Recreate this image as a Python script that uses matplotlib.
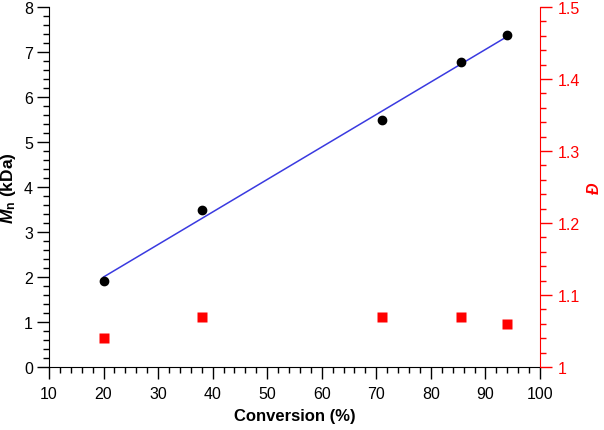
import numpy as np
import matplotlib
matplotlib.use("Agg")
import matplotlib.pyplot as plt
from matplotlib.ticker import MultipleLocator

plt.rcParams['font.family'] = ['Liberation Sans', 'DejaVu Sans']
plt.rcParams['mathtext.fontset'] = 'custom'
plt.rcParams['mathtext.rm'] = 'Liberation Sans:bold'
plt.rcParams['mathtext.it'] = 'Liberation Sans:italic:bold'

conversion = [20, 38, 71, 85.5, 94]
mn_kda = [1.9, 3.5, 5.5, 6.78, 7.38]
dispersity = [1.04, 1.07, 1.07, 1.07, 1.06]

slope, intercept = np.polyfit(conversion, mn_kda, 1)
fit_x = np.array([min(conversion), max(conversion)])
fit_y = slope * fit_x + intercept

fig = plt.figure(figsize=(6.04, 4.31), dpi=100)
ax = fig.add_axes([0.0811, 0.1462, 0.8129, 0.8352])
ax2 = ax.twinx()

ax.plot(fit_x, fit_y, color='#3a3ae0', lw=1.1, zorder=2)
ax.plot(conversion, mn_kda, 'o', color='black', ms=6, zorder=3)
ax2.plot(conversion, dispersity, 's', color='#ff0000', ms=6.5, mec='none', zorder=3)

ax.set_xlim(10, 100)
ax.set_ylim(0, 8)
ax2.set_ylim(1, 1.5)

ax.xaxis.set_major_locator(MultipleLocator(10))
ax.xaxis.set_minor_locator(MultipleLocator(2))
ax.yaxis.set_major_locator(MultipleLocator(1))
ax.yaxis.set_minor_locator(MultipleLocator(0.2))
ax2.yaxis.set_major_locator(MultipleLocator(0.1))
ax2.yaxis.set_minor_locator(MultipleLocator(0.02))
ax2.yaxis.set_major_formatter(plt.FuncFormatter(lambda v, p: f"{v:g}"))

for a in (ax, ax2):
    a.spines['top'].set_visible(False)
ax.spines['right'].set_visible(False)
ax2.spines['left'].set_visible(False)
ax2.spines['bottom'].set_visible(False)
ax2.spines['right'].set_color('#ff0000')

ax.tick_params(axis='both', which='major', direction='out', length=8.5, width=1, labelsize=11.5, colors='black')
ax.tick_params(axis='both', which='minor', direction='out', length=4.5, width=1)
ax.tick_params(axis='x', which='major', pad=5.5)
ax.tick_params(axis='y', which='major', pad=3)
ax2.tick_params(axis='y', which='major', direction='out', length=8.5, width=1, labelsize=11.5, colors='#ff0000', pad=4)
ax2.tick_params(axis='y', which='minor', direction='out', length=4.5, width=1, colors='#ff0000')

ax.set_xlabel('Conversion (%)', fontsize=12, fontweight='bold', labelpad=5)
ax.set_ylabel(r'$M_{\mathrm{n}}$ (kDa)', fontsize=12.5, fontweight='bold', labelpad=4)
ax2.set_ylabel('Đ', fontsize=11.5, fontweight='bold', fontstyle='italic', color='#ff0000', rotation=90, labelpad=5)

fig.savefig('out.png', dpi=100)
